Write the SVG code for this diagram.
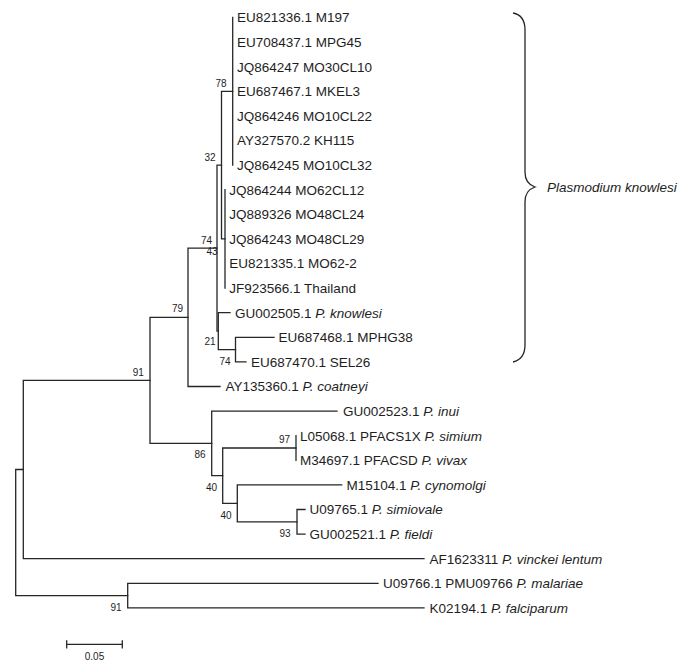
<svg xmlns="http://www.w3.org/2000/svg" width="685" height="667" viewBox="0 0 685 667">
<style>
.br{fill:none;stroke:#262626;stroke-width:1.3;stroke-linecap:square}
.lf{font-family:"Liberation Sans",Arial,Helvetica,sans-serif;font-size:13.5px;fill:#1e1e1e}
.bs{font-family:"Liberation Sans",Arial,Helvetica,sans-serif;font-size:10px;fill:#1e1e1e;text-anchor:middle}
.it{font-style:italic}
</style>
<rect width="685" height="667" fill="#fff"/>
<g id="connectors" class="br">
<path d="M15.7,469.5V595.6M15.7,469.5H23.3M15.7,595.6H127.7"/>
<path d="M23.3,380.35V558.7M23.3,380.35H150M23.3,558.7H424"/>
<path d="M127.7,583.3V607.9M127.7,583.3H378M127.7,607.9H424"/>
<path d="M150,317.3V443.4M150,317.3H188M150,443.4H211.7"/>
<path d="M188,248.1V386.5M188,248.1H217M188,386.5H220"/>
<path d="M217,165.1V331.15M217,165.1H221.5M217,331.15H218.3"/>
<path d="M221.5,91.3V238.9M221.5,91.3H232.7M221.5,238.9H225"/>
<path d="M232.7,17.5V165.1"/>
<path d="M225,189.7V288.1"/>
<path d="M218.3,312.7V349.6M218.3,312.7H230M218.3,349.6H235.5"/>
<path d="M235.5,337.3V361.9M235.5,337.3H274M235.5,361.9H246"/>
<path d="M211.7,411.1V475.7M211.7,411.1H337M211.7,475.7H222.7"/>
<path d="M222.7,448V503.35M222.7,448H296M222.7,503.35H237.3"/>
<path d="M296,435.7V460.3"/>
<path d="M237.3,484.9V521.8M237.3,484.9H341.7M237.3,521.8H297"/>
<path d="M297,509.5V534.1M297,509.5H305M297,534.1H305"/>
</g>
<g id="bootstrap">
<g id="n78"><text class="bs" x="221" y="86.5">78</text></g>
<g id="n32"><text class="bs" x="210" y="160.5">32</text></g>
<g id="n74a"><text class="bs" x="206.5" y="243.5">74</text></g>
<g id="n43"><text class="bs" x="212" y="255">43</text></g>
<g id="n79"><text class="bs" x="177.5" y="312">79</text></g>
<g id="n21"><text class="bs" x="210" y="345">21</text></g>
<g id="n74b"><text class="bs" x="225" y="365">74</text></g>
<g id="n91a"><text class="bs" x="138.3" y="376">91</text></g>
<g id="n86"><text class="bs" x="200" y="458">86</text></g>
<g id="n40a"><text class="bs" x="211.5" y="490.5">40</text></g>
<g id="n40b"><text class="bs" x="226" y="519">40</text></g>
<g id="n97"><text class="bs" x="284.5" y="443">97</text></g>
<g id="n93"><text class="bs" x="285" y="536.5">93</text></g>
<g id="n91b"><text class="bs" x="116" y="611">91</text></g>
</g>
<g id="leaves" class="lf">
<g id="l0"><text x="237" y="22.3">EU821336.1 M197</text></g>
<g id="l1"><text x="237" y="46.9">EU708437.1 MPG45</text></g>
<g id="l2"><text x="237" y="71.5">JQ864247 MO30CL10</text></g>
<g id="l3"><text x="237" y="96.1">EU687467.1 MKEL3</text></g>
<g id="l4"><text x="237" y="120.7">JQ864246 MO10CL22</text></g>
<g id="l5"><text x="237" y="145.3">AY327570.2 KH115</text></g>
<g id="l6"><text x="237" y="169.9">JQ864245 MO10CL32</text></g>
<g id="l7"><text x="229.3" y="194.5">JQ864244 MO62CL12</text></g>
<g id="l8"><text x="229.3" y="219.1">JQ889326 MO48CL24</text></g>
<g id="l9"><text x="229.3" y="243.7">JQ864243 MO48CL29</text></g>
<g id="l10"><text x="229.3" y="268.3">EU821335.1 MO62-2</text></g>
<g id="l11"><text x="229.3" y="292.9">JF923566.1 Thailand</text></g>
<g id="l12"><text x="235" y="317.5">GU002505.1 <tspan class="it">P. knowlesi</tspan></text></g>
<g id="l13"><text x="278.5" y="342.1">EU687468.1 MPHG38</text></g>
<g id="l14"><text x="251" y="366.7">EU687470.1 SEL26</text></g>
<g id="l15"><text x="225.5" y="391.3">AY135360.1 <tspan class="it">P. coatneyi</tspan></text></g>
<g id="l16"><text x="343" y="415.9">GU002523.1 <tspan class="it">P. inui</tspan></text></g>
<g id="l17"><text x="300" y="440.5">L05068.1 PFACS1X <tspan class="it">P. simium</tspan></text></g>
<g id="l18"><text x="300" y="465.1">M34697.1 PFACSD <tspan class="it">P. vivax</tspan></text></g>
<g id="l19"><text x="346.5" y="489.7">M15104.1 <tspan class="it">P. cynomolgi</tspan></text></g>
<g id="l20"><text x="309.5" y="514.3">U09765.1 <tspan class="it">P. simiovale</tspan></text></g>
<g id="l21"><text x="309.5" y="538.9">GU002521.1 <tspan class="it">P. fieldi</tspan></text></g>
<g id="l22"><text x="429.5" y="563.5">AF1623311 <tspan class="it">P. vinckei lentum</tspan></text></g>
<g id="l23"><text x="383" y="588.1">U09766.1 PMU09766 <tspan class="it">P. malariae</tspan></text></g>
<g id="l24"><text x="429.5" y="612.7">K02194.1 <tspan class="it">P. falciparum</tspan></text></g>
</g>
<g id="clade-brace">
<path d="M513,13C521,14.5 525,20 525,30L525,172C525,180.5 529,185 535,187C529,189 525,193.5 525,202L525,345C525,354 521,360 513,362" fill="none" stroke="#262626" stroke-width="1.3"/>
<text class="lf it" x="547" y="192">Plasmodium knowlesi</text>
</g>
<g id="scale-bar">
<path class="br" d="M66.7,644.3H122.3M66.7,640.8V647.8M122.3,640.8V647.8"/>
<text class="bs" x="94.5" y="660">0.05</text>
</g>
</svg>
